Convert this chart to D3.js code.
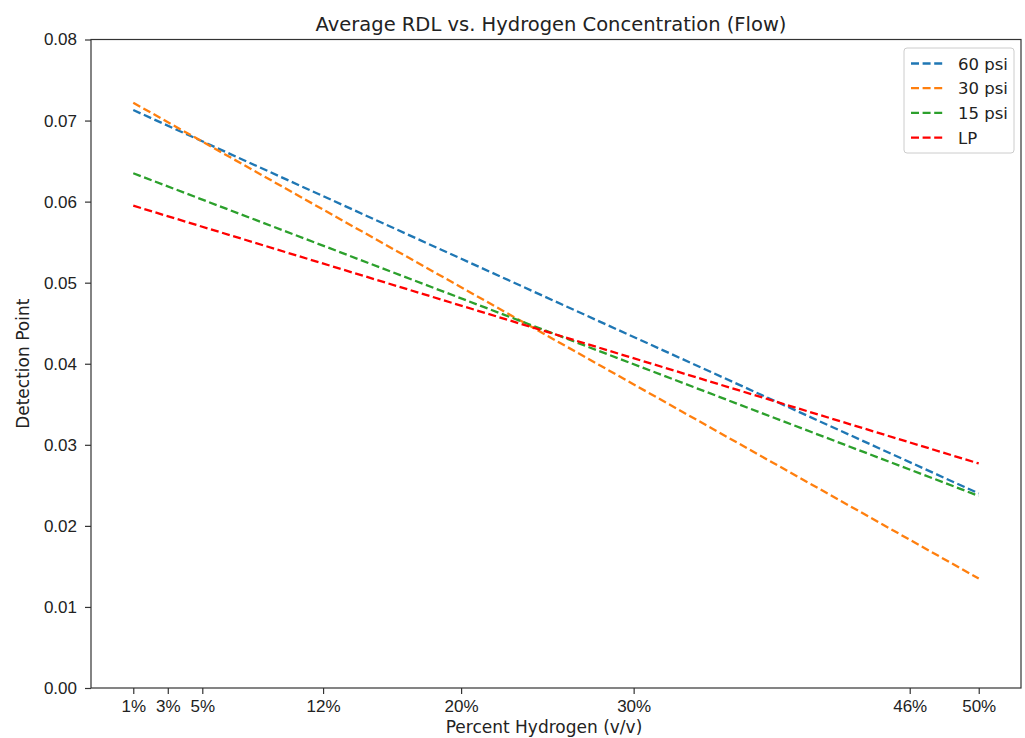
<!DOCTYPE html>
<html lang="en">
<head>
  <meta charset="UTF-8" />
  <title>Average RDL vs. Hydrogen Concentration (Flow)</title>
  <script src="https://d3js.org/d3.v7.min.js"></script>
  <style>
    body { margin: 0; background: #fff; }
    svg { display: block; font-family: "DejaVu Sans", sans-serif; }
    .tick text { font-size: 17px; fill: #222; }
    .tick line { stroke: #333; }
    .domain { display: none; }
  </style>
</head>
<body>
  <svg id="chart" width="1025" height="738"></svg>
  <script>
    // Data (first point at 1%, last at 50%)
    const xTicks = [1, 3, 5, 12, 20, 30, 46, 50];
    const xEnds = [1, 50];
    const seriesNames = ["60 psi", "30 psi", "15 psi", "LP"];
    const seriesColors = ["#1f77b4", "#ff7f0e", "#2ca02c", "#ff0000"];
    const val60 = [0.0713, 0.0240];
    const val30 = [0.0722, 0.0135];
    const val15 = [0.0635, 0.0237];
    const valLP = [0.0595, 0.0277];
    const yTicks = [0, 0.01, 0.02, 0.03, 0.04, 0.05, 0.06, 0.07, 0.08];

    const series = [val60, val30, val15, valLP].map((v, i) => ({
      name: seriesNames[i],
      color: seriesColors[i],
      points: xEnds.map((x, j) => [x, v[j]])
    }));

    const svg = d3.select("#chart");
    const plotLeft = 91, plotRight = 1021, plotTop = 39.5, plotBottom = 688;

    const x = d3.scaleLinear().domain([-1.45, 52.45]).range([plotLeft, plotRight]);
    const y = d3.scaleLinear().domain([0, 0.08]).range([plotBottom, plotTop]);

    // axes
    svg.append("g")
      .attr("transform", `translate(0,${plotBottom})`)
      .call(d3.axisBottom(x).tickValues(xTicks).tickFormat(d => d + "%")
        .tickSize(6).tickPadding(6));

    svg.append("g")
      .attr("transform", `translate(${plotLeft},0)`)
      .call(d3.axisLeft(y).tickValues(yTicks).tickFormat(d3.format(".2f"))
        .tickSize(6).tickPadding(8));

    svg.selectAll(".tick line").attr("stroke-width", 1.2);

    // frame
    svg.append("rect")
      .attr("x", plotLeft).attr("y", plotTop)
      .attr("width", plotRight - plotLeft).attr("height", plotBottom - plotTop)
      .attr("fill", "none").attr("stroke", "#333").attr("stroke-width", 1.2);

    // lines
    const line = d3.line().x(d => x(d[0])).y(d => y(d[1]));
    svg.append("g").selectAll("path")
      .data(series)
      .join("path")
      .attr("d", d => line(d.points))
      .attr("fill", "none")
      .attr("stroke", d => d.color)
      .attr("stroke-width", 2.3)
      .attr("stroke-dasharray", "8,3.6");

    // title and labels
    svg.append("text")
      .attr("x", 551).attr("y", 31)
      .attr("text-anchor", "middle")
      .style("font-size", "19.5px").style("fill", "#222")
      .text("Average RDL vs. Hydrogen Concentration (Flow)");

    svg.append("text")
      .attr("x", 544).attr("y", 733)
      .attr("text-anchor", "middle")
      .style("font-size", "17px").style("fill", "#222")
      .text("Percent Hydrogen (v/v)");

    svg.append("text")
      .attr("transform", `translate(29,${(plotTop + plotBottom) / 2}) rotate(-90)`)
      .attr("text-anchor", "middle")
      .style("font-size", "17px").style("fill", "#222")
      .text("Detection Point");

    // legend
    const legend = svg.append("g").attr("transform", "translate(904,48)");
    legend.append("rect")
      .attr("width", 110).attr("height", 105).attr("rx", 3)
      .attr("fill", "#fff").attr("stroke", "#ccc").attr("stroke-width", 1);
    const rows = legend.selectAll("g.row")
      .data(series)
      .join("g")
      .attr("class", "row")
      .attr("transform", (d, i) => `translate(0,${15.5 + i * 24.7})`);
    rows.append("line")
      .attr("x1", 7).attr("x2", 40)
      .attr("stroke", d => d.color)
      .attr("stroke-width", 2.3)
      .attr("stroke-dasharray", "8,3.6");
    rows.append("text")
      .attr("x", 54).attr("y", 6)
      .style("font-size", "16.5px").style("fill", "#222")
      .text(d => d.name);
  </script>
</body>
</html>
